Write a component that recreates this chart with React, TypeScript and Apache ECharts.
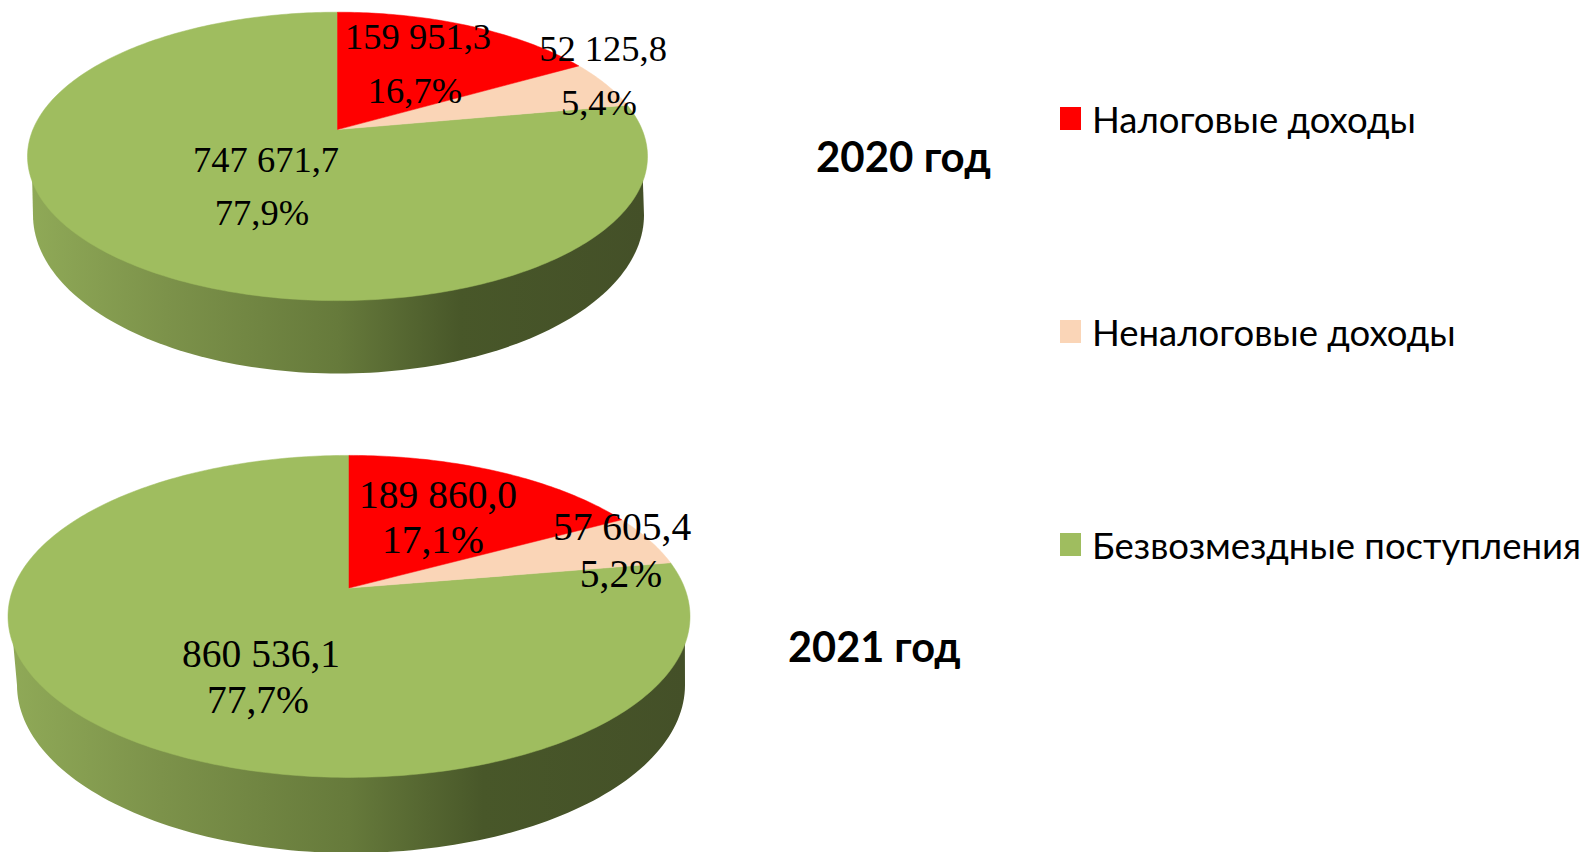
import React, { useEffect, useRef } from "react";
import * as echarts from "echarts";

const categories = ["Налоговые доходы", "Неналоговые доходы", "Безвозмездные поступления"];
const years = ["2020 год", "2021 год"];
const taxValues = [159951.3, 189860.0];
const nonTaxValues = [52125.8, 57605.4];
const grantValues = [747671.7, 860536.1];
const colors = ["#FF0000", "#FAD5B7", "#9FBD5F"];

const pieLayouts = [
  { cx: 337.5, cy: 156.4, rx: 310, ry: 144.2, apex: 0.186, wcx: 338.5, wcy: 215, wrx: 305.5, wry: 158.5, font: 36.5 },
  { cx: 349, cy: 616.4, rx: 341, ry: 161, apex: 0.176, wcx: 351, wcy: 685, wrx: 334, wry: 168, font: 39.5 },
];
// Label centres [value line, percent line] per category, per pie
const labelPos = [
  [[[418, 36], [415, 90]], [[603, 48], [599, 102]], [[266, 159], [262, 212]]],
  [[[438, 495], [433, 540]], [[622, 527], [621, 574]], [[261, 654], [258, 700]]],
];

const allValues = [taxValues, nonTaxValues, grantValues];
const totals = years.map((_, i) => allValues.reduce((s, a) => s + a[i], 0));

const fmtValue = (v: number) => {
  const [a, b] = v.toFixed(1).split(".");
  return a.replace(/\B(?=(\d{3})+$)/g, " ") + "," + b;
};
const fmtPct = (v: number) => v.toFixed(1).replace(".", ",") + "%";

// Perspective mapping of the pie's circle onto the drawn ellipse
function project(l: any, phi: number) {
  const u = Math.sin(phi);
  const v = Math.cos(phi);
  const d = 1 + l.apex * v;
  const vp = (v + l.apex) / d;
  const up = (u * Math.sqrt(1 - l.apex * l.apex)) / d;
  return [l.cx + l.rx * up, l.cy - l.ry * vp];
}

function makeRender(catIndex: number) {
  return (params: any, api: any) => {
    const pieIndex = api.value(0) as number;
    const l = pieLayouts[pieIndex];
    const total = totals[pieIndex];
    let before = 0;
    for (let k = 0; k < catIndex; k++) before += allValues[k][pieIndex];
    const value = api.value(1) as number;
    const start = (before / total) * Math.PI * 2;
    const end = ((before + value) / total) * Math.PI * 2;
    const steps = Math.max(24, Math.round((end - start) * 60));
    const pts: number[][] = [[l.cx, l.cy - l.ry * l.apex]];
    for (let s = 0; s <= steps; s++) pts.push(project(l, start + ((end - start) * s) / steps));

    const children: any[] = [];
    if (catIndex === 2) {
      const wall: number[][] = [];
      for (let s = 0; s <= 120; s++) {
        const t = Math.PI - (Math.PI * s) / 120;
        wall.push([l.wcx + l.wrx * Math.cos(t), l.wcy + l.wry * Math.sin(t)]);
      }
      wall.push([l.cx + l.rx * 0.985, l.cy + l.ry * 0.16], [l.cx - l.rx * 0.985, l.cy + l.ry * 0.16]);
      children.push({
        type: "polygon",
        shape: { points: wall },
        style: {
          fill: new echarts.graphic.LinearGradient(0, 0, 1, 0, [
            { offset: 0, color: "#8FA957" },
            { offset: 0.22, color: "#7C924A" },
            { offset: 0.5, color: "#667A3B" },
            { offset: 0.7, color: "#485729" },
            { offset: 1, color: "#445028" },
          ]),
        },
      });
    }
    children.push({
      type: "polygon",
      shape: { points: pts },
      style: { fill: colors[catIndex], stroke: colors[catIndex], lineWidth: 0.5 },
    });
    const pos = labelPos[pieIndex][catIndex];
    [fmtValue(value), fmtPct((value / total) * 100)].forEach((t, i) => {
      children.push({
        type: "text",
        z2: 100,
        x: pos[i][0],
        y: pos[i][1],
        style: {
          text: t,
          fill: "#000",
          font: `${l.font}px "Liberation Serif"`,
          align: "center",
          verticalAlign: "middle",
        },
      });
    });
    return { type: "group", children };
  };
}

export default function App() {
  const ref = useRef<HTMLDivElement>(null);
  useEffect(() => {
    const chart = echarts.init(ref.current!, null, { renderer: "svg" });
    chart.setOption({
      animation: false,
      backgroundColor: "#fff",
      title: [
        {
          text: years[0],
          left: 816,
          top: 135,
          padding: 0,
          textStyle: { fontFamily: "Lato", fontWeight: "bold", fontSize: 42, color: "#000" },
        },
        {
          text: years[1],
          left: 788,
          top: 625,
          padding: 0,
          textStyle: { fontFamily: "Lato", fontWeight: "bold", fontSize: 41.5, color: "#000" },
        },
      ],
      legend: {
        orient: "vertical",
        left: 1060,
        top: 100,
        padding: 0,
        itemWidth: 21,
        itemHeight: 23,
        itemGap: 176,
        icon: "rect",
        data: categories,
        selectedMode: false,
        textStyle: { fontFamily: "Lato", fontSize: 36.5, color: "#000", padding: [0, 0, 0, 6] },
      },
      series: [2, 1, 0].map((c) => ({
        type: "custom",
        name: categories[c],
        coordinateSystem: "none",
        itemStyle: { color: colors[c] },
        renderItem: makeRender(c),
        data: allValues[c].map((v, i) => [i, v]),
      })),
    });
    return () => chart.dispose();
  }, []);
  return <div ref={ref} style={{ position: "absolute", left: 0, top: 0, width: 1587, height: 852 }} />;
}
